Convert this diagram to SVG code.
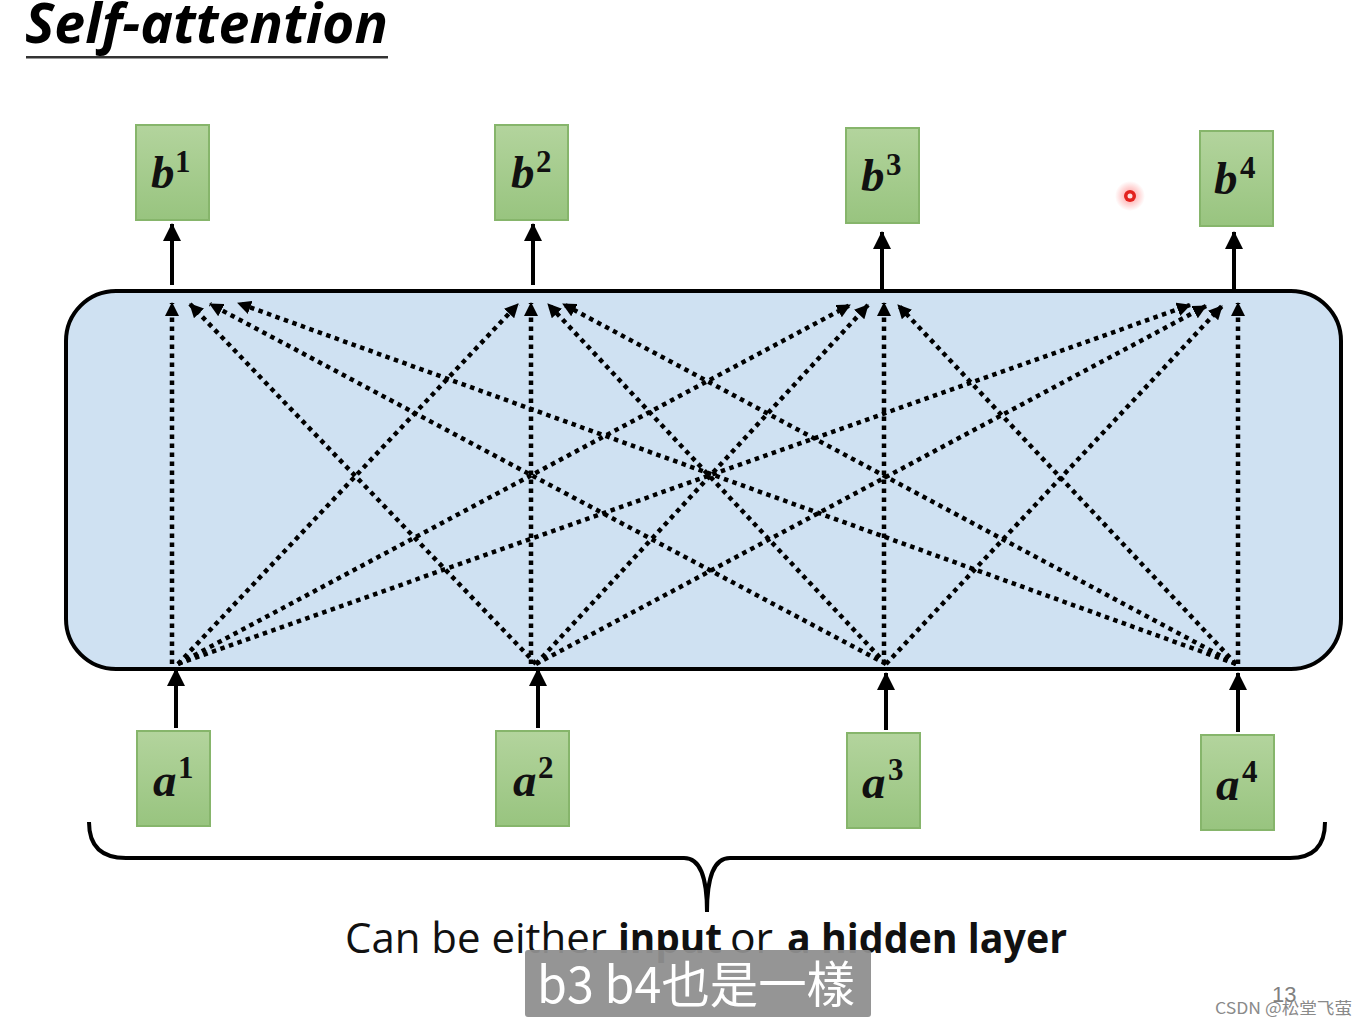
<svg xmlns="http://www.w3.org/2000/svg" width="1367" height="1026" viewBox="0 0 1367 1026">
<defs>
<linearGradient id="gr" x1="0" y1="0" x2="0" y2="1">
<stop offset="0" stop-color="#b3d49d"/>
<stop offset="1" stop-color="#98c47f"/>
</linearGradient>
<marker id="dh" viewBox="0 0 14 14" markerUnits="userSpaceOnUse" markerWidth="14" markerHeight="14" refX="13" refY="7" orient="auto">
<path d="M0,0 L14,7 L0,14 z" fill="#000"/>
</marker>
<marker id="sh" viewBox="0 0 18 18" markerUnits="userSpaceOnUse" markerWidth="18" markerHeight="18" refX="17" refY="9" orient="auto">
<path d="M0,0 L18,9 L0,18 z" fill="#000"/>
</marker>
<radialGradient id="glow">
<stop offset="0" stop-color="#ff3030" stop-opacity="0.5"/>
<stop offset="1" stop-color="#ff3030" stop-opacity="0"/>
</radialGradient>
</defs>
<style>
.box{fill:url(#gr);stroke:#86b56b;stroke-width:2}
.v{font-family:"Liberation Serif",serif;font-weight:bold;font-style:italic;font-size:47px;fill:#111}
.s{font-family:"Liberation Serif",serif;font-weight:bold;font-size:31px;fill:#111}
.dot{stroke:#000;stroke-width:4.5;stroke-dasharray:4.5 4.5;fill:none;marker-end:url(#dh)}
.sol{stroke:#000;stroke-width:4;fill:none;marker-end:url(#sh)}
.cap{font-family:"Open Sans","Noto Sans",sans-serif;font-size:42px;fill:#111}
</style>
<rect width="1367" height="1026" fill="#fff"/>

<g id="title">
<text x="25" y="43" font-family="Open Sans, Noto Sans, sans-serif" font-weight="bold" font-style="italic" font-size="56" fill="#000" textLength="363" lengthAdjust="spacingAndGlyphs">Self-attention</text>
<rect x="26" y="56" width="362" height="2.5" fill="#333"/>
</g>

<g id="attention-box">
<rect x="66" y="291" width="1275" height="378" rx="50" ry="50" fill="#cfe1f2" stroke="#000" stroke-width="4"/>
</g>

<g id="b1"><rect class="box" x="136" y="125" width="73" height="95"/><text class="v" x="151" y="188">b</text><text class="s" x="175" y="172">1</text></g>
<g id="b2"><rect class="box" x="495" y="125" width="73" height="95"/><text class="v" x="511" y="188">b</text><text class="s" x="536" y="172">2</text></g>
<g id="b3"><rect class="box" x="846" y="128" width="73" height="95"/><text class="v" x="861" y="191">b</text><text class="s" x="886" y="175">3</text></g>
<g id="b4"><rect class="box" x="1200" y="131" width="73" height="95"/><text class="v" x="1214" y="194">b</text><text class="s" x="1240" y="178">4</text></g>

<g id="a1"><rect class="box" x="137" y="731" width="73" height="95"/><text class="v" x="153" y="796">a</text><text class="s" x="178" y="778">1</text></g>
<g id="a2"><rect class="box" x="496" y="731" width="73" height="95"/><text class="v" x="513" y="796">a</text><text class="s" x="538" y="778">2</text></g>
<g id="a3"><rect class="box" x="847" y="733" width="73" height="95"/><text class="v" x="862" y="798">a</text><text class="s" x="888" y="780">3</text></g>
<g id="a4"><rect class="box" x="1201" y="735" width="73" height="95"/><text class="v" x="1216" y="800">a</text><text class="s" x="1242" y="782">4</text></g>

<g id="connectors">
<line class="sol" x1="172" y1="285" x2="172" y2="224"/>
<line class="sol" x1="533" y1="285" x2="533" y2="224"/>
<line class="sol" x1="882" y1="289" x2="882" y2="232"/>
<line class="sol" x1="1234" y1="289" x2="1234" y2="232"/>
<line class="sol" x1="176" y1="728" x2="176" y2="669"/>
<line class="sol" x1="538" y1="728" x2="538" y2="669"/>
<line class="sol" x1="886" y1="730" x2="886" y2="673"/>
<line class="sol" x1="1238" y1="732" x2="1238" y2="673"/>

<line class="dot" x1="172" y1="664" x2="172" y2="303"/>
<line class="dot" x1="531" y1="664" x2="531" y2="303"/>
<line class="dot" x1="884" y1="664" x2="884" y2="303"/>
<line class="dot" x1="1238" y1="664" x2="1238" y2="303"/>

<line class="dot" x1="536" y1="664" x2="190" y2="304"/>
<line class="dot" x1="886" y1="664" x2="210" y2="304"/>
<line class="dot" x1="1236" y1="664" x2="238" y2="303"/>

<line class="dot" x1="178" y1="664" x2="518" y2="304"/>
<line class="dot" x1="886" y1="664" x2="548" y2="304"/>
<line class="dot" x1="1236" y1="664" x2="563" y2="304"/>

<line class="dot" x1="178" y1="664" x2="850" y2="305"/>
<line class="dot" x1="536" y1="664" x2="868" y2="305"/>
<line class="dot" x1="1236" y1="664" x2="898" y2="305"/>

<line class="dot" x1="178" y1="664" x2="1190" y2="305"/>
<line class="dot" x1="536" y1="664" x2="1206" y2="306"/>
<line class="dot" x1="886" y1="664" x2="1222" y2="306"/>
</g>

<g id="brace">
<path d="M89,822 C89,845 100,858 126,858 L684,858 C700,858 707,876 707,912 C707,876 714,858 730,858 L1290,858 C1314,858 1325,845 1325,822" fill="none" stroke="#000" stroke-width="4"/>
</g>

<g id="caption">
<text class="cap" y="953"><tspan x="345" textLength="262" lengthAdjust="spacingAndGlyphs">Can be either</tspan><tspan x="618" font-weight="bold" textLength="104" lengthAdjust="spacingAndGlyphs">input</tspan><tspan x="730" textLength="43" lengthAdjust="spacingAndGlyphs">or</tspan><tspan x="787" font-weight="bold" textLength="280" lengthAdjust="spacingAndGlyphs">a hidden layer</tspan></text>
</g>

<g id="subtitle">
<rect x="525" y="950" width="346" height="67" rx="3" fill="#8f8f8f" fill-opacity="0.95"/>
<text x="537" y="1003" font-family="Noto Sans CJK TC, Noto Sans, sans-serif" font-size="50" fill="#fff" textLength="318" lengthAdjust="spacingAndGlyphs">b3 b4也是一樣</text>
</g>

<g id="pointer">
<circle cx="1130" cy="196" r="15" fill="url(#glow)"/>
<circle cx="1130" cy="196" r="6" fill="#e3221e"/>
<circle cx="1130" cy="196" r="2.5" fill="#ffe0e0"/>
</g>

<g id="footer">
<text x="1272" y="1002" font-family="Liberation Sans, sans-serif" font-size="22" fill="#808080">13</text>
<text x="1215" y="1014" font-family="Noto Sans CJK SC, Noto Sans, sans-serif" font-size="16" fill="#8a8a8a" textLength="137" lengthAdjust="spacingAndGlyphs">CSDN @松堂飞萤</text>
</g>
</svg>
